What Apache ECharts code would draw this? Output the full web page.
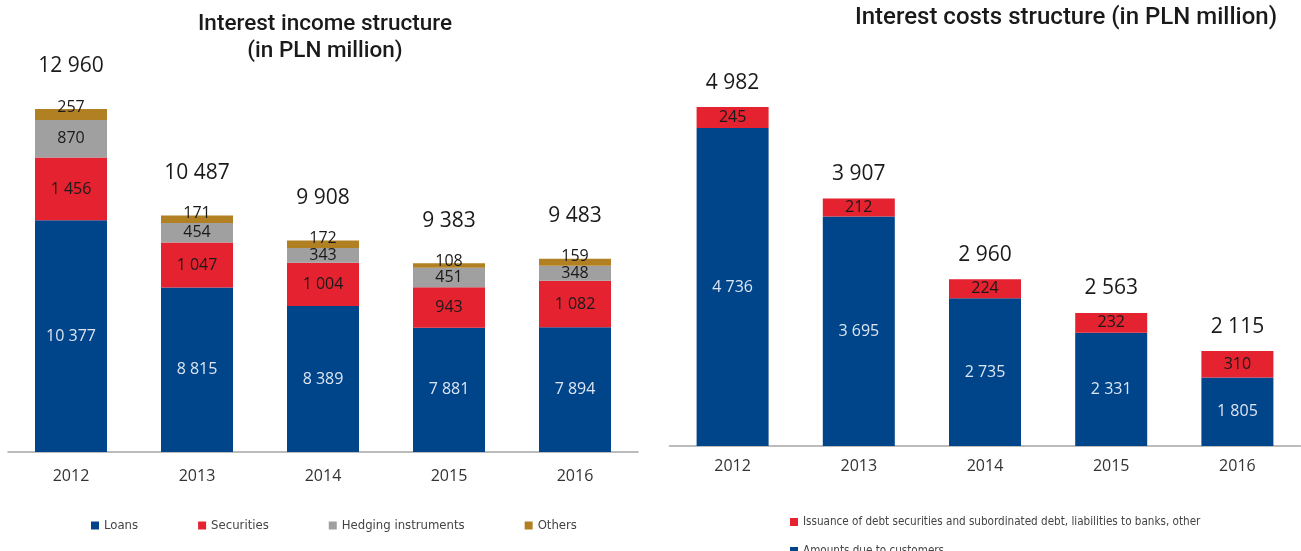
<!DOCTYPE html>
<html>
<head>
<meta charset="utf-8">
<script src="https://cdn.jsdelivr.net/npm/echarts@6/dist/echarts.min.js"></script>
<style>
  html, body { margin: 0; padding: 0; background: #fff; }
  #chart { width: 1301px; height: 551px; }
</style>
</head>
<body>
<div id="chart"></div>
<script>
    // 年份
    const years = ["2012", "2013", "2014", "2015", "2016"];

    // 利息收入结构
    const incomeLoans = [10377, 8815, 8389, 7881, 7894];
    const incomeSecurities = [1456, 1047, 1004, 943, 1082];
    const incomeHedging = [870, 454, 343, 451, 348];
    const incomeOthers = [257, 171, 172, 108, 159];
    const incomeTotals = [12960, 10487, 9908, 9383, 9483];

    // 利息成本结构
    const costsCustomers = [4736, 3695, 2735, 2331, 1805];
    const costsDebt = [245, 212, 224, 232, 310];
    const costsTotals = [4982, 3907, 2960, 2563, 2115];

    const BLUE = "#00448a";
    const RED = "#e42230";
    const GREY = "#a0a0a0";
    const GOLD = "#b08023";
    const labelFont = "'Open Sans', 'Noto Sans', sans-serif";
    const titleFont = "Roboto, 'Noto Sans', sans-serif";
    const legendFont = "'DejaVu Sans Condensed', 'DejaVu Sans', sans-serif";

    const fmt = v => String(v).replace(/\B(?=(\d{3})+(?!\d))/g, " ");

    function segLabel(color, extra) {
        return Object.assign({
            show: true,
            position: "inside",
            color: color,
            fontSize: 16,
            fontFamily: labelFont,
            formatter: p => fmt(p.value)
        }, extra || {});
    }

    // 顶部合计：堆叠一个0值的透明柱子，只显示标签
    function totalSeries(totals, idx, stack, distance) {
        return {
            name: "total" + idx,
            type: "bar",
            stack: stack,
            xAxisIndex: idx,
            yAxisIndex: idx,
            data: totals.map(() => 0),
            itemStyle: { color: "transparent" },
            label: {
                show: true,
                position: "top",
                distance: distance,
                color: "#1a1a1a",
                fontSize: 21,
                fontFamily: labelFont,
                formatter: p => fmt(totals[p.dataIndex])
            },
            silent: true
        };
    }

    const chart = echarts.init(document.getElementById("chart"));

    const option = {
        animation: false,
        title: [
            {
                text: "Interest income structure\n(in PLN million)",
                left: 320,
                top: 6,
                textAlign: "center",
                textStyle: { fontFamily: titleFont, fontSize: 22.5, fontWeight: 500, color: "#1a1a1a", lineHeight: 27 }
            },
            {
                text: "Interest costs structure (in PLN million)",
                left: 1061,
                top: 1,
                textAlign: "center",
                textStyle: { fontFamily: titleFont, fontSize: 24, fontWeight: 500, color: "#1a1a1a" }
            }
        ],
        legend: [
            {
                data: ["Loans", "Securities", "Hedging instruments", "Others"],
                left: 86,
                top: 514,
                itemWidth: 8,
                itemHeight: 8,
                itemGap: 60,
                icon: "rect",
                textStyle: { fontFamily: legendFont, fontSize: 13, color: "#444" }
            },
            {
                data: ["Issuance of debt securities and subordinated debt, liabilities to banks, other", "Amounts due to customers"],
                orient: "vertical",
                left: 785,
                top: 511,
                height: 120,
                itemWidth: 8,
                itemHeight: 8,
                itemGap: 17,
                icon: "rect",
                textStyle: { fontFamily: legendFont, fontSize: 11.6, color: "#444" }
            }
        ],
        grid: [
            { left: 8, width: 630, top: 64.2, bottom: 99 },
            { left: 669.5, width: 631, top: 20.3, bottom: 105 }
        ],
        xAxis: [0, 1].map(i => ({
            type: "category",
            gridIndex: i,
            data: years,
            axisTick: { show: false },
            axisLine: { lineStyle: { color: "#a6a6a6", width: 1.5 } },
            axisLabel: { color: "#333", fontSize: 16, fontFamily: labelFont, margin: i === 0 ? 16 : 12 }
        })),
        yAxis: [
            { type: "value", gridIndex: 0, min: 5000, max: 14000, show: false, splitLine: { show: false } },
            { type: "value", gridIndex: 1, min: 1000, max: 6000, show: false, splitLine: { show: false } }
        ],
        series: [
            {
                name: "Loans", type: "bar", stack: "inc", xAxisIndex: 0, yAxisIndex: 0,
                barWidth: 72, data: incomeLoans,
                itemStyle: { color: BLUE },
                label: segLabel("#dce6f2")
            },
            {
                name: "Securities", type: "bar", stack: "inc", xAxisIndex: 0, yAxisIndex: 0,
                data: incomeSecurities,
                itemStyle: { color: RED },
                label: segLabel("#1a1a1a")
            },
            {
                name: "Hedging instruments", type: "bar", stack: "inc", xAxisIndex: 0, yAxisIndex: 0,
                data: incomeHedging,
                itemStyle: { color: GREY },
                label: segLabel("#1a1a1a")
            },
            {
                name: "Others", type: "bar", stack: "inc", xAxisIndex: 0, yAxisIndex: 0,
                data: incomeOthers,
                itemStyle: { color: GOLD },
                label: segLabel("#1a1a1a", { position: "top", distance: -6 })
            },
            totalSeries(incomeTotals, 0, "inc", 32),
            {
                name: "Amounts due to customers", type: "bar", stack: "cost", xAxisIndex: 1, yAxisIndex: 1,
                barWidth: 72, data: costsCustomers,
                itemStyle: { color: BLUE },
                label: segLabel("#dce6f2")
            },
            {
                name: "Issuance of debt securities and subordinated debt, liabilities to banks, other", type: "bar", stack: "cost", xAxisIndex: 1, yAxisIndex: 1,
                data: costsDebt,
                itemStyle: { color: RED },
                label: segLabel("#1a1a1a")
            },
            totalSeries(costsTotals, 1, "cost", 14)
        ]
    };

    chart.setOption(option);
</script>
</body>
</html>
